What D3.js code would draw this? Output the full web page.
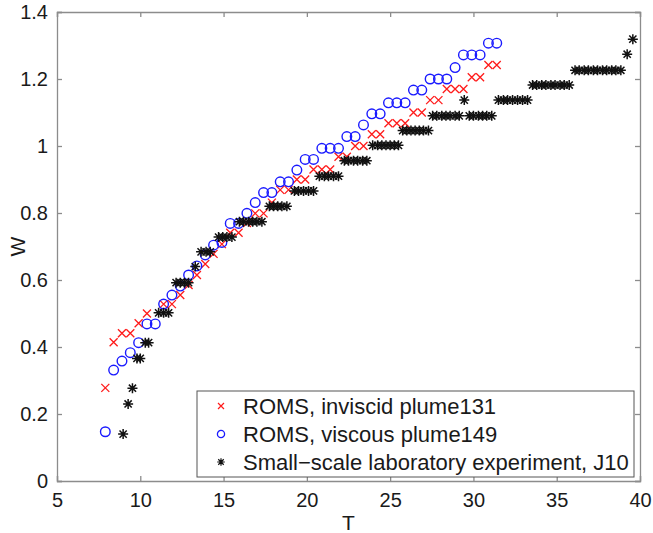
<!DOCTYPE html>
<html>
<head>
<meta charset="utf-8">
<script src="https://cdn.jsdelivr.net/npm/d3@7"></script>
<style>
  body { margin: 0; background: #fff; }
  text { font-family: "Liberation Sans", Arial, Helvetica, sans-serif; fill: #1a1a1a; }
</style>
</head>
<body>
<svg id="chart"></svg>
<script>
// ROMS, inviscid plume131
let invT = [7.9, 8.4, 8.9, 9.4, 9.9, 10.4, 11.4, 11.9, 12.4, 12.9, 13.4, 13.9, 14.4, 14.9, 15.4, 15.9, 16.4,
    16.9, 17.4, 17.9, 18.4, 18.9, 19.4, 19.9, 20.4, 20.9, 21.4, 21.9, 22.4, 22.9, 23.4, 23.9, 24.4, 24.9,
    25.4, 25.9, 26.4, 26.9, 27.4, 27.9, 28.4, 28.9, 29.4, 29.9, 30.4, 30.9, 31.4];
let invW = [0.278, 0.414, 0.441, 0.441, 0.471, 0.500, 0.528, 0.528, 0.555, 0.585, 0.615, 0.648, 0.678, 0.707,
    0.741, 0.741, 0.770, 0.799, 0.799, 0.831, 0.869, 0.869, 0.900, 0.900, 0.930, 0.930, 0.930, 0.968, 0.968,
    1.000, 1.000, 1.035, 1.035, 1.068, 1.068, 1.068, 1.100, 1.100, 1.137, 1.137, 1.170, 1.170, 1.170,
    1.205, 1.205, 1.242, 1.242];

// ROMS, viscous plume149
let visT = [7.9, 8.4, 8.9, 9.4, 9.9, 10.4, 10.9, 11.4, 11.9, 12.4, 12.9, 13.4, 13.9, 14.4, 14.9, 15.4, 15.9,
    16.4, 16.9, 17.4, 17.9, 18.4, 18.9, 19.4, 19.9, 20.4, 20.9, 21.4, 21.9, 22.4, 22.9, 23.4, 23.9, 24.4,
    24.9, 25.4, 25.9, 26.4, 26.9, 27.4, 27.9, 28.4, 28.9, 29.4, 29.9, 30.4, 30.9, 31.4];
let visW = [0.147, 0.331, 0.358, 0.383, 0.413, 0.469, 0.469, 0.528, 0.555, 0.582, 0.615, 0.642, 0.675, 0.704,
    0.712, 0.769, 0.769, 0.799, 0.831, 0.861, 0.861, 0.893, 0.893, 0.928, 0.960, 0.960, 0.993, 0.993, 0.993,
    1.028, 1.028, 1.063, 1.096, 1.096, 1.129, 1.129, 1.129, 1.167, 1.167, 1.200, 1.200, 1.200, 1.234,
    1.272, 1.272, 1.272, 1.307, 1.307];

// Small-scale laboratory experiment, J10
let labT = [8.97, 9.27, 9.53, 9.8, 10.0, 10.3, 10.5,
    11.1, 11.4, 11.7,
    12.15, 12.4, 12.65, 12.9,
    13.3,
    13.65, 13.95, 14.2,
    14.7, 14.95, 15.2, 15.5,
    15.95, 16.2, 16.5, 16.75, 17.0, 17.3,
    17.75, 18.0, 18.25, 18.5, 18.8,
    19.25, 19.5, 19.8, 20.1, 20.4,
    20.75, 21.05, 21.3, 21.6, 21.9,
    22.25, 22.5, 22.8, 23.05, 23.35, 23.6,
    23.95, 24.25, 24.5, 24.75, 25.0, 25.25, 25.5,
    25.75, 26.0, 26.25, 26.5, 26.75, 27.0, 27.3,
    27.55, 27.8, 28.1, 28.35, 28.6, 28.9, 29.15, 29.75, 30.0, 30.3, 30.55, 30.8, 31.1,
    29.45,
    31.5, 31.8, 32.05, 32.35, 32.65, 32.95, 33.25,
    33.55, 33.8, 34.1, 34.35, 34.65, 34.9, 35.2, 35.45, 35.75,
    36.1, 36.35, 36.65, 36.9, 37.2, 37.45, 37.75, 38.0, 38.3, 38.55, 38.85,
    39.23, 39.57];
let labW = [0.140, 0.230, 0.277, 0.366, 0.366, 0.413, 0.413,
    0.502, 0.502, 0.502,
    0.592, 0.592, 0.592, 0.592,
    0.640,
    0.684, 0.684, 0.684,
    0.728, 0.728, 0.728, 0.728,
    0.774, 0.774, 0.774, 0.774, 0.774, 0.774,
    0.820, 0.820, 0.820, 0.820, 0.820,
    0.866, 0.866, 0.866, 0.866, 0.866,
    0.910, 0.910, 0.910, 0.910, 0.910,
    0.956, 0.956, 0.956, 0.956, 0.956, 0.956,
    1.002, 1.002, 1.002, 1.002, 1.002, 1.002, 1.002,
    1.046, 1.046, 1.046, 1.046, 1.046, 1.046, 1.046,
    1.090, 1.090, 1.090, 1.090, 1.090, 1.090, 1.090, 1.090, 1.090, 1.090, 1.090, 1.090, 1.090,
    1.137,
    1.137, 1.137, 1.137, 1.137, 1.137, 1.137, 1.137,
    1.182, 1.182, 1.182, 1.182, 1.182, 1.182, 1.182, 1.182, 1.182,
    1.226, 1.226, 1.226, 1.226, 1.226, 1.226, 1.226, 1.226, 1.226, 1.226, 1.226,
    1.274, 1.319];

let xTicks = [5, 10, 15, 20, 25, 30, 35, 40];
let yTicks = [0, 0.2, 0.4, 0.6, 0.8, 1, 1.2, 1.4];
let legendLabels = ["ROMS, inviscid plume131", "ROMS, viscous plume149", "Small\u2212scale laboratory experiment, J10"];

let margin = {top: 12, right: 13, bottom: 52, left: 57},
    width = 653 - margin.left - margin.right,
    height = 533 - margin.top - margin.bottom;

let svg = d3.select("#chart")
    .attr("width", 653)
    .attr("height", 533);

let chart = svg.append("g")
    .attr("transform", "translate(" + margin.left + "," + margin.top + ")");

let x = d3.scaleLinear().domain([5, 40]).range([0, width]);
let y = d3.scaleLinear().domain([0, 1.4]).range([height, 0]);

// marker paths, centred on 0,0
function crossPath(s) {
    return "M" + -s + "," + -s + "L" + s + "," + s + "M" + -s + "," + s + "L" + s + "," + -s;
}
function starPath(s) {
    let d = s * 0.72;
    return "M" + -s + ",0L" + s + ",0M0," + -s + "L0," + s +
        "M" + -d + "," + -d + "L" + d + "," + d + "M" + -d + "," + d + "L" + d + "," + -d;
}

let axisColor = "#8c8c8c";

// axes
let xAxis = chart.append("g")
    .attr("transform", "translate(0," + height + ")")
    .call(d3.axisBottom(x).tickValues(xTicks).tickSize(-5).tickPadding(20).tickFormat(d3.format("d")));
let yAxis = chart.append("g")
    .call(d3.axisLeft(y).tickValues(yTicks).tickSize(-5).tickPadding(9).tickFormat(d => d3.format("")(+d.toFixed(1))));
let xTop = chart.append("g")
    .call(d3.axisTop(x).tickValues(xTicks).tickSize(-5).tickFormat(""));
let yRight = chart.append("g")
    .attr("transform", "translate(" + width + ",0)")
    .call(d3.axisRight(y).tickValues(yTicks).tickSize(-5).tickFormat(""));

[xAxis, yAxis, xTop, yRight].forEach(a => {
    a.select(".domain").attr("stroke", axisColor).attr("stroke-width", 1.3);
    a.selectAll(".tick line").attr("stroke", axisColor).attr("stroke-width", 1.3);
    a.selectAll(".tick text").attr("font-size", 20).attr("fill", "#1a1a1a")
        .attr("font-family", "'Liberation Sans', Arial, Helvetica, sans-serif");
});
xAxis.selectAll(".tick text").attr("dy", "0.32em");

// axis labels
chart.append("text")
    .attr("x", width / 2).attr("y", height + 49)
    .attr("text-anchor", "middle").attr("font-size", 21)
    .text("T");
chart.append("text")
    .attr("transform", "translate(-32," + (height / 2) + ") rotate(-90)")
    .attr("text-anchor", "middle").attr("font-size", 21)
    .text("W");

// series
chart.append("g").selectAll("path")
    .data(d3.zip(invT, invW))
    .enter().append("path")
    .attr("transform", d => "translate(" + x(d[0]) + "," + y(d[1]) + ")")
    .attr("d", crossPath(4))
    .attr("fill", "none").attr("stroke", "#ff1a1a").attr("stroke-width", 1.3);

chart.append("g").selectAll("circle")
    .data(d3.zip(visT, visW))
    .enter().append("circle")
    .attr("cx", d => x(d[0])).attr("cy", d => y(d[1]))
    .attr("r", 4.8)
    .attr("fill", "none").attr("stroke", "#1a1aff").attr("stroke-width", 1.4);

chart.append("g").selectAll("path")
    .data(d3.zip(labT, labW))
    .enter().append("path")
    .attr("transform", d => "translate(" + x(d[0]) + "," + y(d[1]) + ")")
    .attr("d", starPath(5))
    .attr("fill", "none").attr("stroke", "#111").attr("stroke-width", 1.5);

// legend
let legend = svg.append("g").attr("transform", "translate(197,391)");
legend.append("rect")
    .attr("width", 437).attr("height", 86)
    .attr("fill", "#fff").attr("stroke", "#555").attr("stroke-width", 1);

let rows = legend.selectAll("g.row")
    .data(legendLabels)
    .enter().append("g")
    .attr("class", "row")
    .attr("transform", (d, i) => "translate(0," + (15 + i * 28) + ")");

rows.append("text")
    .attr("x", 46).attr("dy", "0.35em")
    .attr("font-size", 22)
    .text(d => d);

rows.filter((d, i) => i === 0).append("path")
    .attr("transform", "translate(24,0)")
    .attr("d", crossPath(3))
    .attr("fill", "none").attr("stroke", "#ff1a1a").attr("stroke-width", 1.2);
rows.filter((d, i) => i === 1).append("circle")
    .attr("cx", 24).attr("r", 3.6)
    .attr("fill", "none").attr("stroke", "#1a1aff").attr("stroke-width", 1.3);
rows.filter((d, i) => i === 2).append("path")
    .attr("transform", "translate(24,0)")
    .attr("d", starPath(3.8))
    .attr("fill", "none").attr("stroke", "#111").attr("stroke-width", 1.2);
</script>
</body>
</html>
